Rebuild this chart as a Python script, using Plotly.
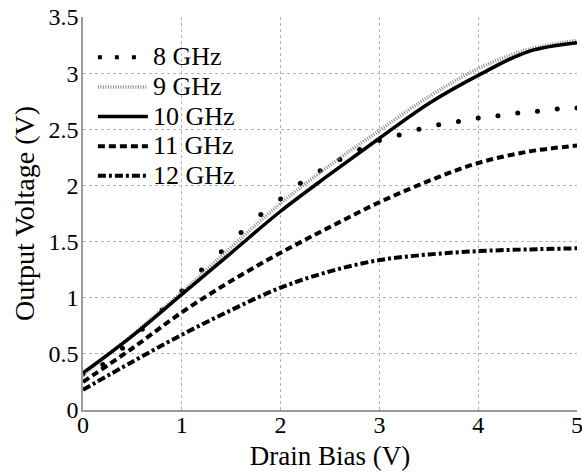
import plotly.graph_objects as go

# ---- data ----
bias_fine = [0.0, 0.2, 0.4, 0.6, 0.8, 1.0, 1.2, 1.4, 1.6, 1.8, 2.0, 2.2, 2.4,
             2.6, 2.8, 3.0, 3.2, 3.4, 3.6, 3.8, 4.0, 4.2, 4.4, 4.6, 4.8, 5.0]
v_8ghz = [0.32, 0.405, 0.55, 0.72, 0.89, 1.06, 1.247, 1.41, 1.58, 1.74, 1.88,
          2.02, 2.13, 2.23, 2.32, 2.40, 2.45, 2.50, 2.54, 2.57, 2.60, 2.62,
          2.645, 2.66, 2.68, 2.69]

bias = [0.0, 0.5, 1.0, 1.5, 2.0, 2.5, 3.0, 3.5, 4.0, 4.5, 5.0]
v_9ghz = [0.31, 0.67, 1.05, 1.45, 1.84, 2.18, 2.49, 2.79, 3.04, 3.21, 3.29]
v_10ghz = [0.33, 0.66, 1.03, 1.40, 1.77, 2.10, 2.42, 2.73, 2.98, 3.19, 3.27]
v_11ghz = [0.25, 0.55, 0.87, 1.15, 1.40, 1.63, 1.85, 2.04, 2.20, 2.30, 2.355]
v_12ghz = [0.18, 0.43, 0.67, 0.89, 1.09, 1.235, 1.335, 1.385, 1.415, 1.43, 1.44]

series_names = ["8 GHz", "9 GHz", "10 GHz", "11 GHz", "12 GHz"]
x_ticks = [0, 1, 2, 3, 4, 5]
y_ticks = [0, 0.5, 1, 1.5, 2, 2.5, 3, 3.5]

FONT = "Liberation Serif, Times New Roman, serif"


def legend_label(name):
    # larger glyphs than the legend row pitch
    return '<span style="font-size:26px">' + name + "</span>"


fig = go.Figure()

# 8 GHz: markers on data, plus a legend-only dotted sample
fig.add_trace(go.Scatter(x=bias_fine, y=v_8ghz, mode="markers",
                         name=legend_label(series_names[0]),
                         marker=dict(color="black", size=5), showlegend=False,
                         legendgroup="8"))
fig.add_trace(go.Scatter(x=[None], y=[None], mode="lines",
                         name=legend_label(series_names[0]),
                         line=dict(color="black", width=4, dash="4px,13px"),
                         legendgroup="8"))
fig.add_trace(go.Scatter(x=bias, y=v_9ghz, mode="lines",
                         name=legend_label(series_names[1]),
                         line=dict(color="#8a8a8a", width=3.5, dash="1px,1.5px",
                                   shape="spline")))
fig.add_trace(go.Scatter(x=bias, y=v_10ghz, mode="lines",
                         name=legend_label(series_names[2]),
                         line=dict(color="black", width=3.5, shape="spline")))
fig.add_trace(go.Scatter(x=bias, y=v_11ghz, mode="lines",
                         name=legend_label(series_names[3]),
                         line=dict(color="black", width=4, dash="7px,4px",
                                   shape="spline")))
fig.add_trace(go.Scatter(x=bias, y=v_12ghz, mode="lines",
                         name=legend_label(series_names[4]),
                         line=dict(color="black", width=4, dash="8px,3px,3px,3px",
                                   shape="spline")))

axis_common = dict(
    showgrid=True, gridcolor="#b5b5b5", griddash="dot", gridwidth=1,
    showline=True, linecolor="#9a9a9a", linewidth=1.5,
    zeroline=False, ticks="", mirror=False,
    ticklabeloverflow="allow", automargin=False,
    tickfont=dict(family=FONT, size=24, color="black"),
)

fig.update_layout(
    width=582, height=473,
    margin=dict(l=83, r=5, t=17, b=63),
    paper_bgcolor="white", plot_bgcolor="white",
    font=dict(family=FONT, color="black"),
    showlegend=True,
    legend=dict(x=0.02, y=0.948, xanchor="left", yanchor="top",
                bgcolor="rgba(0,0,0,0)", borderwidth=0,
                font=dict(family=FONT, size=20.5, color="black"),
                itemwidth=50, tracegroupgap=0),
    xaxis=dict(range=[0, 5], tickvals=x_ticks, ticklabelstandoff=-8,
               title=dict(text="Drain Bias (V)", standoff=10,
                          font=dict(family=FONT, size=27, color="black")),
               **axis_common),
    yaxis=dict(range=[0, 3.5], tickvals=y_ticks, ticklabelstandoff=-2,
               title=dict(text="Output Voltage (V)", standoff=6,
                          font=dict(family=FONT, size=28, color="black")),
               **axis_common),
)

fig.write_html("out.html")
